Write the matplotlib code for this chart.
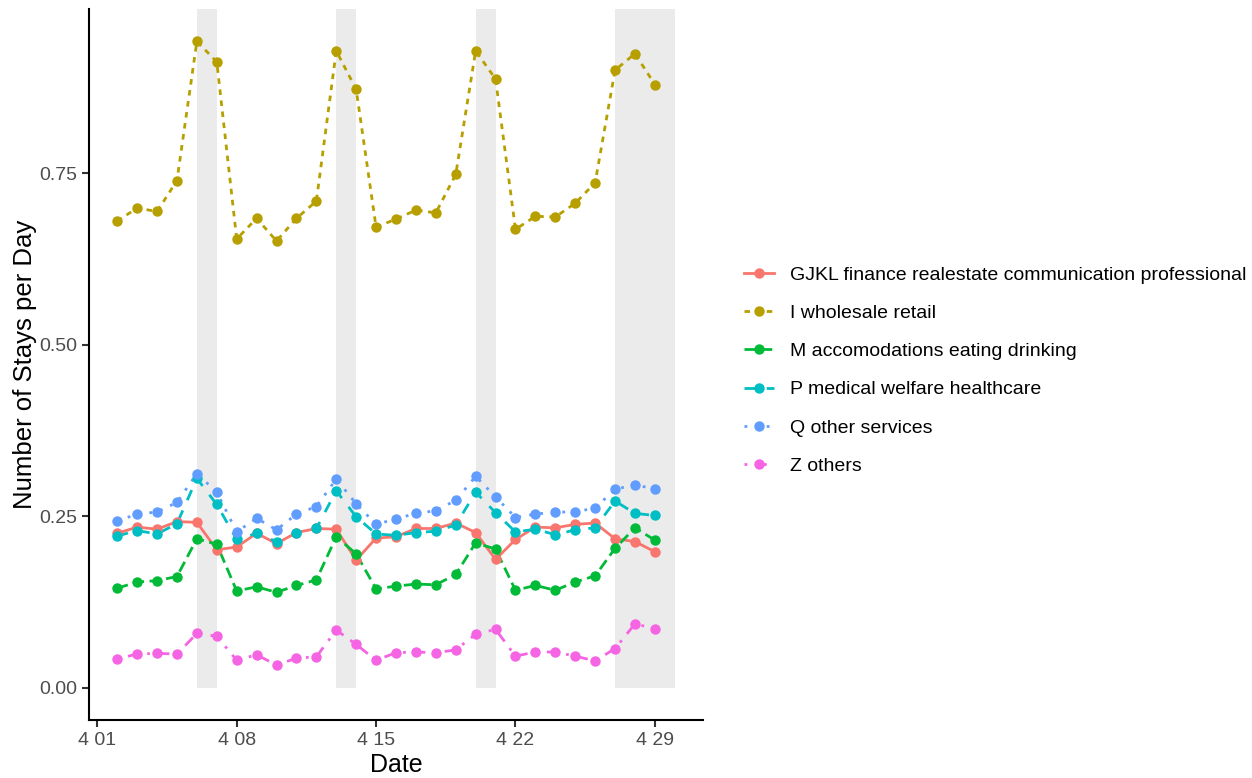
import numpy as np
import matplotlib
matplotlib.use("Agg")
import matplotlib.pyplot as plt
import matplotlib.dates as mdates

plt.rcParams['font.family'] = ['Liberation Sans', 'DejaVu Sans']

# Daily dates, 2 April to 29 April
dates = np.arange(np.datetime64('2019-04-02'), np.datetime64('2019-04-30'))

gjkl = [0.225, 0.234, 0.231, 0.242, 0.241, 0.201, 0.205, 0.225, 0.210, 0.226,
        0.232, 0.231, 0.186, 0.218, 0.220, 0.232, 0.232, 0.240, 0.226, 0.187,
        0.216, 0.234, 0.233, 0.238, 0.240, 0.217, 0.213, 0.198]
wholesale = [0.680, 0.699, 0.694, 0.739, 0.942, 0.912, 0.654, 0.684, 0.651, 0.684,
             0.709, 0.928, 0.872, 0.671, 0.683, 0.696, 0.692, 0.748, 0.928, 0.887,
             0.668, 0.687, 0.686, 0.706, 0.736, 0.900, 0.924, 0.879]
accom = [0.145, 0.154, 0.156, 0.162, 0.217, 0.209, 0.141, 0.147, 0.139, 0.149,
         0.157, 0.220, 0.195, 0.144, 0.148, 0.151, 0.150, 0.165, 0.211, 0.202,
         0.142, 0.149, 0.142, 0.154, 0.163, 0.203, 0.233, 0.215]
medical = [0.221, 0.229, 0.224, 0.239, 0.305, 0.267, 0.216, 0.225, 0.213, 0.226,
           0.232, 0.287, 0.249, 0.224, 0.222, 0.226, 0.228, 0.237, 0.285, 0.255,
           0.227, 0.231, 0.223, 0.230, 0.233, 0.272, 0.254, 0.251]
other_services = [0.243, 0.253, 0.256, 0.270, 0.312, 0.285, 0.227, 0.247, 0.230, 0.253,
                  0.264, 0.304, 0.268, 0.238, 0.246, 0.254, 0.258, 0.273, 0.308, 0.278,
                  0.248, 0.253, 0.256, 0.256, 0.262, 0.289, 0.296, 0.289]
others = [0.042, 0.049, 0.050, 0.049, 0.079, 0.075, 0.040, 0.048, 0.033, 0.043,
          0.045, 0.084, 0.063, 0.040, 0.051, 0.052, 0.051, 0.055, 0.078, 0.085,
          0.046, 0.052, 0.052, 0.046, 0.039, 0.057, 0.093, 0.086]

labels = ["GJKL finance realestate communication professional",
          "I wholesale retail",
          "M accomodations eating drinking",
          "P medical welfare healthcare",
          "Q other services",
          "Z others"]
series = [gjkl, wholesale, accom, medical, other_services, others]
colors = ["#F8766D", "#B79F00", "#00BA38", "#00BFC4", "#619CFF", "#F564E3"]
dash_styles = ["-", (0, (2, 2)), (0, (4, 2)), (0, (4, 4)), (0, (1, 3)), (0, (1, 3, 4, 3))]

# Weekend / holiday periods
shade_periods = [("2019-04-06", "2019-04-07"), ("2019-04-13", "2019-04-14"),
                 ("2019-04-20", "2019-04-21"), ("2019-04-27", "2019-04-30")]

tick_dates = ["2019-04-01", "2019-04-08", "2019-04-15", "2019-04-22", "2019-04-29"]
tick_labels = ["4 01", "4 08", "4 15", "4 22", "4 29"]
y_ticks = [0.00, 0.25, 0.50, 0.75]
y_tick_labels = ["0.00", "0.25", "0.50", "0.75"]

fig = plt.figure(figsize=(12.52, 7.78), dpi=100)
ax = fig.add_axes([89 / 1252, 1 - 720 / 778, (703 - 89) / 1252, (720 - 9) / 778])

# Axis limits with 5% padding around the data
x_lo = np.datetime64("2019-04-02") - np.timedelta64(34, 'h')
x_hi = np.datetime64("2019-04-30") + np.timedelta64(34, 'h')
y_top = max(max(s) for s in series)
ax.set_xlim(mdates.date2num(x_lo), mdates.date2num(x_hi))
ax.set_ylim(-0.05 * y_top, 1.05 * y_top)

top = ax.get_ylim()[1]
for start, end in shade_periods:
    xs = mdates.date2num(np.array([np.datetime64(start), np.datetime64(end)]))
    ax.fill_between(xs, 0, top, color="#EBEBEB", linewidth=0, zorder=0)

xnum = mdates.date2num(dates)
handles = []
for vals, lab, col, ls in zip(series, labels, colors, dash_styles):
    ax.plot(xnum, vals, color=col, linestyle=ls, linewidth=2.0, zorder=2)
for vals, lab, col, ls in zip(series, labels, colors, dash_styles):
    ax.plot(xnum, vals, color=col, linestyle="none", marker="o", markersize=7.5,
            markeredgewidth=0, zorder=3)
    h, = ax.plot([], [], color=col, linestyle=ls, linewidth=2.0, marker="o",
                 markersize=7.5, markeredgewidth=0, label=lab)
    handles.append(h)

ax.set_xticks(mdates.date2num(np.array([np.datetime64(d) for d in tick_dates])))
ax.set_xticklabels(tick_labels)
ax.set_yticks(y_ticks)
ax.set_yticklabels(y_tick_labels)

for side in ["top", "right"]:
    ax.spines[side].set_visible(False)
for side in ["left", "bottom"]:
    ax.spines[side].set_linewidth(1.5)
    ax.spines[side].set_color("black")
ax.tick_params(axis="both", length=5, width=1.5, color="#333333",
               labelsize=14, labelcolor="#4D4D4D", pad=3.5)

ax.set_xlabel("Date", fontsize=18, color="black", labelpad=3)
ax.set_ylabel("Number of Stays per Day", fontsize=18.5, color="black", labelpad=1.5)

fig.legend(handles=handles, loc="center left", bbox_to_anchor=(744 / 1252, 1 - 370.5 / 778),
           frameon=False, fontsize=14, handlelength=1.55, handletextpad=0.8,
           labelspacing=1.06, borderpad=0, borderaxespad=0)

fig.savefig("out.png", dpi=100)
